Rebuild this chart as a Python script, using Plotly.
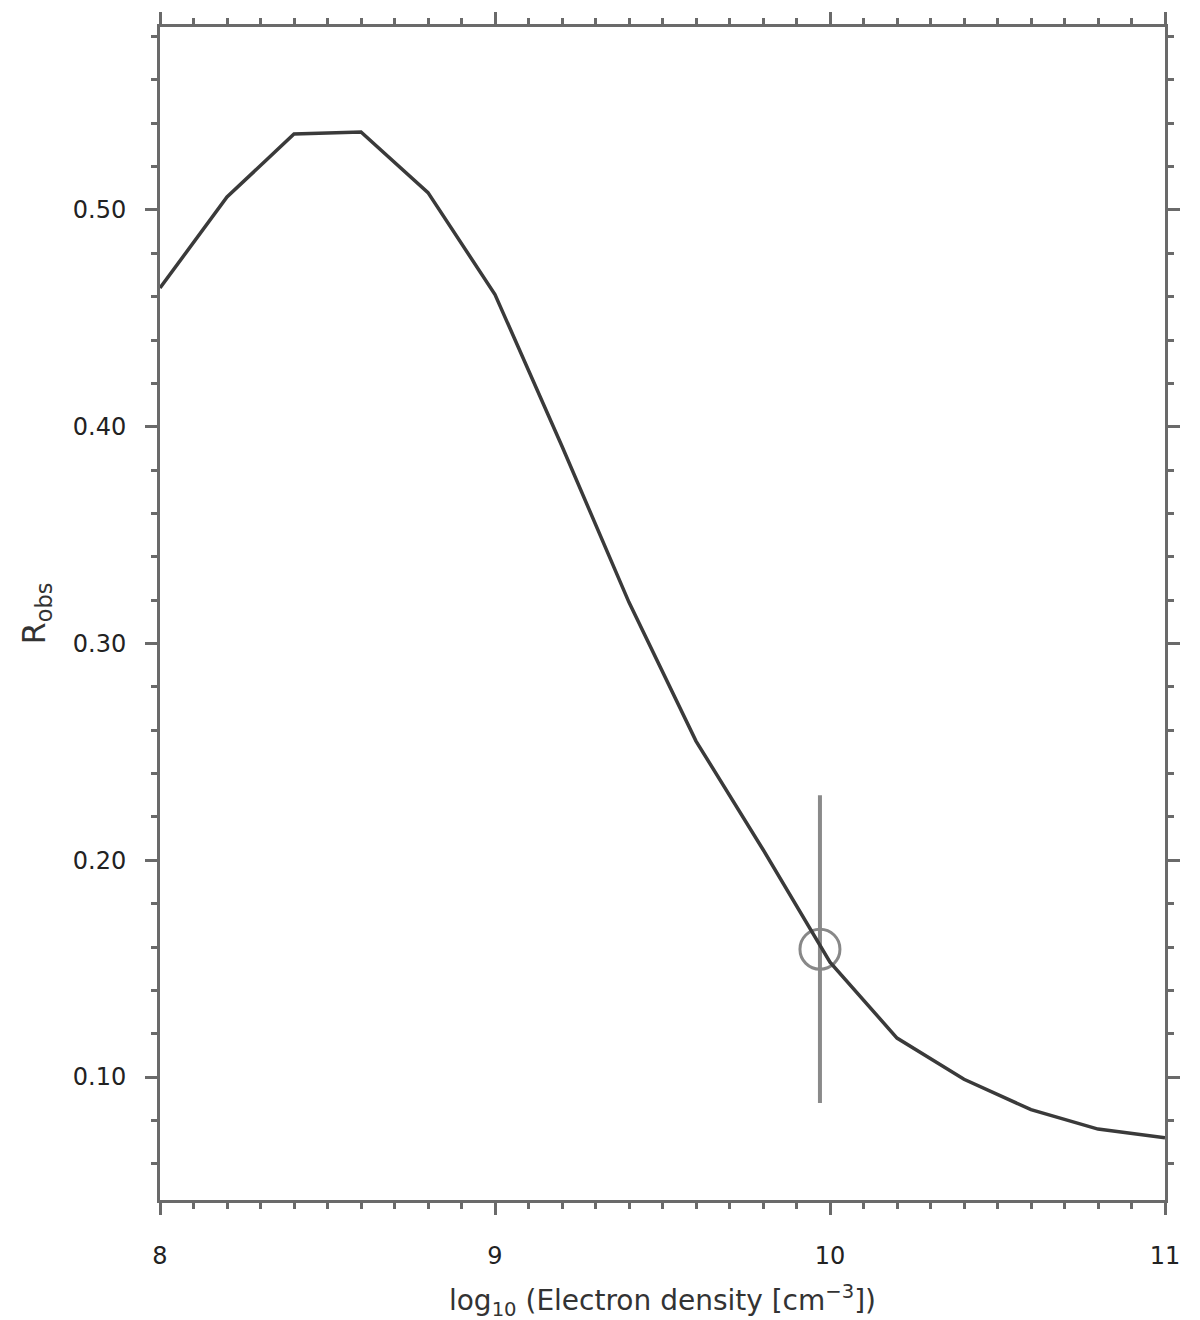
import plotly.graph_objects as go

# model curve: log10 electron density vs line ratio
log_ne = [8.0, 8.2, 8.4, 8.6, 8.8, 9.0, 9.2, 9.4, 9.6, 9.8,
          10.0, 10.2, 10.4, 10.6, 10.8, 11.0]
ratio = [0.464, 0.506, 0.535, 0.536, 0.508, 0.461, 0.391, 0.319, 0.255, 0.205,
         0.153, 0.118, 0.099, 0.085, 0.076, 0.072]

# observed point
obs_ne = [9.97]
obs_ratio = [0.159]
obs_err = [0.071]

y_ticks = [0.10, 0.20, 0.30, 0.40, 0.50]
x_ticks = [8, 9, 10, 11]

fig = go.Figure()

fig.add_trace(go.Scatter(
    x=obs_ne, y=obs_ratio,
    mode='markers',
    marker=dict(symbol='circle-open', size=40, color='#888888',
                line=dict(width=3, color='#888888')),
    error_y=dict(type='data', array=obs_err, visible=True,
                 width=0, thickness=4, color='#8a8a8a'),
    showlegend=False
))

fig.add_trace(go.Scatter(
    x=log_ne, y=ratio,
    mode='lines',
    line=dict(color='#3a3a3a', width=3.5),
    showlegend=False
))

axis_common = dict(
    showline=True, linecolor='#6a6a6a', linewidth=3, mirror='allticks',
    ticks='outside', ticklen=12, tickwidth=3, tickcolor='#6a6a6a',
    showgrid=False, zeroline=False, automargin=False,
)

fig.update_xaxes(
    range=[8, 11], tickvals=x_ticks, ticktext=['8', '9', '10', '11'],
    minor=dict(dtick=0.1, ticks='outside', ticklen=6, tickwidth=3, tickcolor='#6a6a6a'),
    title=dict(text='log<sub>10</sub> (Electron density [cm<sup>−3</sup>])',
               font=dict(size=28, color='#333333'), standoff=22),
    tickfont=dict(size=24, color='#222222'),
    ticklabelstandoff=20,
    **axis_common
)

fig.update_yaxes(
    range=[0.0433, 0.5844], tickvals=y_ticks, tickformat='.2f',
    minor=dict(dtick=0.02, ticks='outside', ticklen=6, tickwidth=3, tickcolor='#6a6a6a'),
    title=dict(text='R<sub>obs</sub>', font=dict(size=32, color='#333333'), standoff=18),
    tickfont=dict(size=24, color='#222222'),
    ticklabelstandoff=14,
    **axis_common
)

fig.update_layout(
    width=1200, height=1320,
    margin=dict(l=152, r=43, t=19, b=128),
    plot_bgcolor='white', paper_bgcolor='white',
    font=dict(family='DejaVu Sans, sans-serif'),
)

fig.write_html("out.html")
